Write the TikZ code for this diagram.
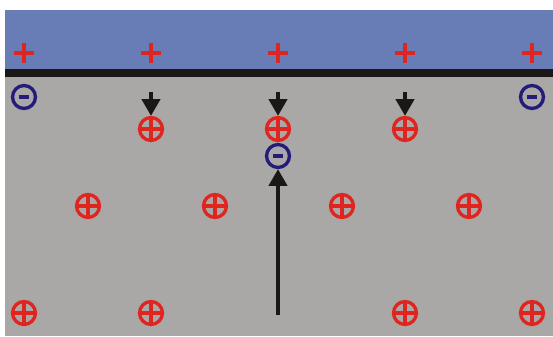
\documentclass[tikz,border=0pt]{standalone}
\usetikzlibrary{arrows.meta}
\definecolor{plateblue}{RGB}{104,125,182}
\definecolor{bodygray}{RGB}{169,168,166}
\definecolor{chred}{RGB}{224,36,31}
\definecolor{chblue}{RGB}{36,28,122}
\definecolor{barblack}{RGB}{26,24,22}
\tikzset{
  pluscharge/.style={circle, draw=chred, line width=2.5pt, minimum size=17.2pt, inner sep=0pt,
    path picture={\draw[chred, line width=2.4pt]
      (path picture bounding box.north) -- (path picture bounding box.south)
      (path picture bounding box.west) -- (path picture bounding box.east);}},
  minuscharge/.style={circle, draw=chblue, line width=2.5pt, minimum size=17.2pt, inner sep=0pt,
    path picture={\draw[chblue, line width=3pt]
      ([xshift=-4pt]path picture bounding box.center) -- ([xshift=4pt]path picture bounding box.center);}},
  surfplus/.style={inner sep=0pt, minimum size=15pt,
    path picture={\draw[chred, line width=2.4pt]
      ([yshift=7.5pt]path picture bounding box.center) -- ([yshift=-7.5pt]path picture bounding box.center)
      ([xshift=-7.5pt]path picture bounding box.center) -- ([xshift=7.5pt]path picture bounding box.center);}},
  arr/.style={draw=barblack, line width=2.8pt, -{Triangle[width=13.5pt,length=12.5pt]}, fill=barblack},
}
\begin{document}
\begin{tikzpicture}[x=0.75pt,y=-0.75pt]
\useasboundingbox (0,0) rectangle (553,336);
\fill[plateblue] (5,10) rectangle (553,70);
\fill[bodygray] (5,76) rectangle (553,336);
\fill[barblack] (5,69) rectangle (553,76.5);
% surface plus signs
\foreach \x [count=\i] in {24,151,278,405,532} {
  \node[surfplus] (s\i) at (\x,53) {};
}
% surface electrons
\node[minuscharge] (el) at (24,97) {};
\node[minuscharge] (er) at (532,97) {};
% ions
\node[pluscharge] (a1) at (151,129) {};
\node[pluscharge] (a2) at (278,129) {};
\node[pluscharge] (a3) at (405,129) {};
\node[minuscharge] (e1) at (278,156) {};
\node[pluscharge] (b1) at (88,206) {};
\node[pluscharge] (b2) at (215,206) {};
\node[pluscharge] (b3) at (342,206) {};
\node[pluscharge] (b4) at (469,206) {};
\node[pluscharge] (c1) at (24,313) {};
\node[pluscharge] (c2) at (151,313) {};
\node[pluscharge] (c3) at (405,313) {};
\node[pluscharge] (c4) at (532,313) {};
% arrows
\coordinate (t1) at (151,92);
\coordinate (t2) at (278,92);
\coordinate (t3) at (405,92);
\coordinate (u) at (278,315);
\draw[arr] (t1) -- (a1.north);
\draw[arr] (t2) -- (a2.north);
\draw[arr] (t3) -- (a3.north);
\draw[arr] (u) -- (e1.south);
\end{tikzpicture}
\end{document}
